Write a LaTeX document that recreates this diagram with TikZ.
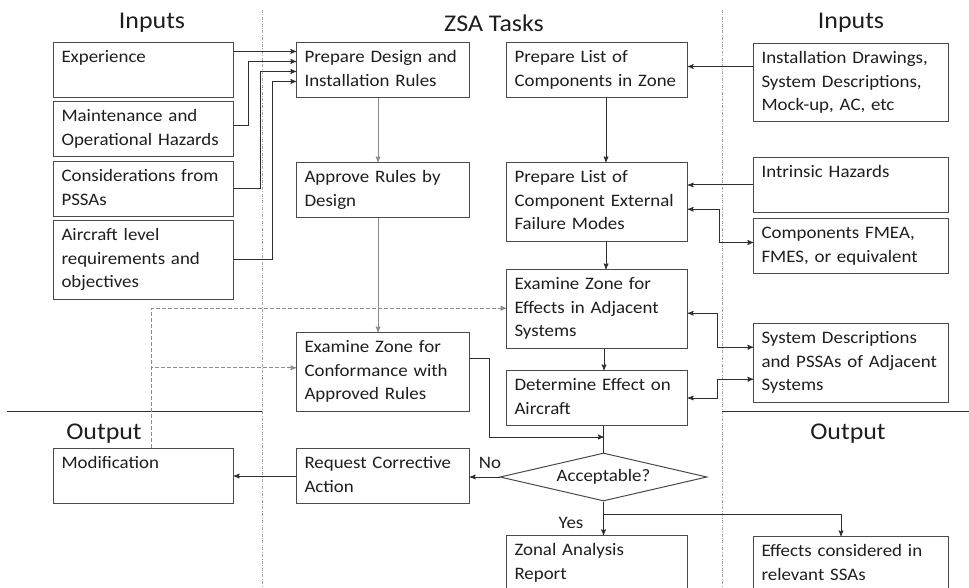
\documentclass[tikz,border=0pt]{standalone}
\usepackage{fontspec}
\setmainfont{Carlito}[FakeStretch=1.08]
\usepackage{xcolor}
\usetikzlibrary{shapes, arrows, positioning}
\definecolor{inkgrey}{HTML}{1E1E1E}
\definecolor{framegrey}{HTML}{4A4A4A}
\definecolor{linegrey}{HTML}{2E2E2E}
\definecolor{palegrey}{HTML}{8C8C8C}
\definecolor{sepgrey}{HTML}{A8A8A8}

\begin{document}
\begin{tikzpicture}[
            x=1pt, y=-1pt, line width=1pt,
            box/.style={rectangle, draw=framegrey, anchor=north west, align=left, text=inkgrey,
                inner xsep=8pt, inner ysep=4pt, font=\fontsize{17.5}{23.5}\selectfont,
                execute at begin node=\strut, execute at end node=\strut},
            inbox/.style={box, text width=164pt},
            taskbox/.style={box, text width=157pt},
            listbox/.style={box, text width=165pt},
            srcbox/.style={box, text width=179pt},
            decision/.style={diamond, draw=framegrey, text=inkgrey, inner sep=0pt, aspect=4.3,
                minimum width=207pt, minimum height=48pt, font=\fontsize{17.5}{20}\selectfont},
            head/.style={text=inkgrey, font=\fontsize{24}{28}\selectfont},
            tag/.style={text=inkgrey, font=\fontsize{17.5}{20}\selectfont},
            arrow/.style={->, >=stealth', draw=linegrey},
            softarrow/.style={->, >=stealth', draw=palegrey},
            dasharrow/.style={->, >=stealth', draw=palegrey, dash pattern=on 4pt off 2pt},
            divider/.style={draw=sepgrey, line width=0.8pt, dash pattern=on 3pt off 1.5pt on 0.8pt off 1.5pt},
            rule/.style={draw=linegrey}
        ]
            \useasboundingbox (0,0) rectangle (969,588);

            \draw[divider] (262,10) -- (262,588);
            \draw[divider] (722,10) -- (722,588);
            \draw[rule] (7,411) -- (262,411);
            \draw[rule] (722,411) -- (969,411);

            \node[head] (inleft) at (152,23) {Inputs};
            \node[head] (tasks) at (494,23) {ZSA Tasks};
            \node[head] (inright) at (851,23) {Inputs};
            \node[head] (outleft) at (104,434) {Output};
            \node[head] (outright) at (848,434) {Output};

            \node[inbox] (exp) at (53,42) {Experience\\};
            \node[inbox] (maint) at (53,101) {Maintenance and\\Operational Hazards};
            \node[inbox] (consid) at (53,161) {Considerations from\\PSSAs};
            \node[inbox] (acreq) at (53,220) {Aircraft level\\requirements and\\objectives};
            \node[inbox] (modif) at (53,448) {Modification\\};

            \node[taskbox] (prepdes) at (296,42) {Prepare Design and\\Installation Rules};
            \node[taskbox] (approve) at (296,162) {Approve Rules by\\Design};
            \node[taskbox] (exconf) at (296,332) {Examine Zone for\\Conformance with\\Approved Rules};
            \node[taskbox] (request) at (296,448) {Request Corrective\\Action};

            \node[listbox] (preplist) at (506,42) {Prepare List of\\Components in Zone};
            \node[listbox] (prepext) at (506,162) {Prepare List of\\Component External\\Failure Modes};
            \node[listbox] (exeff) at (506,269) {Examine Zone for\\Effects in Adjacent\\Systems};
            \node[listbox] (deteff) at (506,370) {Determine Effect on\\Aircraft};
            \node[decision] (accept) at (603.5,477) {Acceptable?};
            \node[listbox] (zonal) at (506,535) {Zonal Analysis\\Report};

            \node[srcbox] (instdraw) at (753,43) {Installation Drawings,\\System Descriptions,\\Mock-up, AC, etc};
            \node[srcbox] (intrinsic) at (753,157) {Intrinsic Hazards\\};
            \node[srcbox] (fmea) at (753,218) {Components FMEA,\\FMES, or equivalent};
            \node[srcbox] (sysdesc) at (753,323) {System Descriptions\\and PSSAs of Adjacent\\Systems};
            \node[srcbox] (effcons) at (753,536) {Effects considered in\\relevant SSAs};

            \coordinate (feed1) at ([yshift=18.5pt]prepdes.west);
            \coordinate (feed2) at ([yshift=8.5pt]prepdes.west);
            \coordinate (feed3) at ([yshift=-1.5pt]prepdes.west);
            \coordinate (feed4) at ([yshift=-11.5pt]prepdes.west);
            \coordinate (listin) at ([yshift=3.5pt]preplist.east);
            \coordinate (join) at (603.5,437);
            \coordinate (split) at (603.5,514);

            \draw[arrow] (exp.east |- feed1) -- (feed1);
            \draw[arrow] ([yshift=3pt]maint.east) -- ++(14,0) |- (feed2);
            \draw[arrow] (consid.east) -- ++(26,0) |- (feed3);
            \draw[arrow] (acreq.east) -- ++(38,0) |- (feed4);

            \draw[softarrow] ([xshift=-5pt]prepdes.south) -- ([xshift=-5pt]approve.north);
            \draw[softarrow] ([xshift=-5pt]approve.south) -- ([xshift=-5pt]exconf.north);

            \draw[arrow] ([xshift=9pt]preplist.south) -- ([xshift=9pt]prepext.north);
            \draw[arrow] ([xshift=9pt]prepext.south) -- ([xshift=9pt]exeff.north);
            \draw[arrow] ([xshift=7pt]exeff.south) -- ([xshift=7pt]deteff.north);

            \draw[arrow] (instdraw.west |- listin) -- (listin);
            \draw[arrow] (intrinsic.west) -- (intrinsic.west -| prepext.east);
            \draw[arrow, <->] ([yshift=-7.5pt]prepext.east) -- ++(31,0) |- ([yshift=3.5pt]fmea.west);
            \draw[arrow, <->] ([yshift=-4.5pt]exeff.east) -- ++(29,0) |- ([yshift=15.5pt]sysdesc.west);
            \draw[arrow, <->] (deteff.east) -- ++(29,0) |- ([yshift=-16.5pt]sysdesc.west);

            \draw[arrow] ([yshift=13pt]exconf.east) -- ++(19,0) |- (join);
            \draw[linegrey] (accept.north |- deteff.south) -- (accept.north);
            \draw[arrow] (accept.west) -- (accept.west -| request.east);
            \draw[arrow] (request.west) -- (request.west -| modif.east);
            \draw[linegrey] (accept.south) -- (split);
            \draw[arrow] (split) -- (split |- zonal.north);
            \draw[arrow] (split) -| ([xshift=-10pt]effcons.north);

            \draw[dasharrow] ([xshift=8pt]modif.north) |- ([yshift=0.5pt]exeff.west);
            \draw[dasharrow] ([xshift=8pt]modif.north) |- ([yshift=4pt]exconf.west);

            \node[tag] (nolabel) at (490,463) {No};
            \node[tag] (yeslabel) at (571,523) {Yes};
        \end{tikzpicture}
\end{document}
